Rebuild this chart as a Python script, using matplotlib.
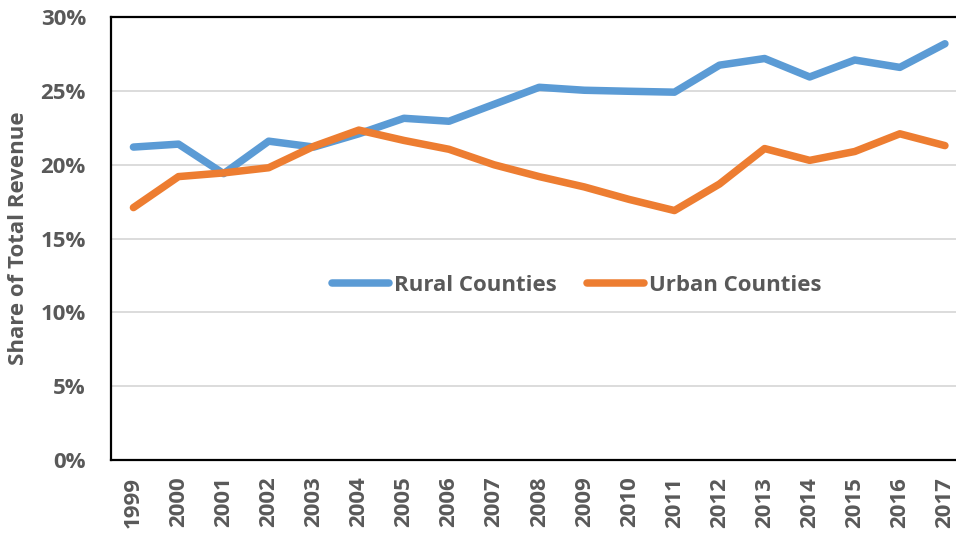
import matplotlib.pyplot as plt
from matplotlib.ticker import PercentFormatter

years = [str(y) for y in range(1999, 2018)]
rural = [21.2, 21.4, 19.4, 21.6, 21.2, 22.1, 23.15, 22.95, 24.1, 25.25,
         25.05, 24.98, 24.92, 26.75, 27.2, 25.95, 27.1, 26.6, 28.2]
urban = [17.1, 19.2, 19.45, 19.8, 21.25, 22.35, 21.65, 21.05, 20.0, 19.2,
         18.5, 17.65, 16.9, 18.7, 21.1, 20.3, 20.9, 22.1, 21.3]

plt.rcParams['font.family'] = ['Open Sans', 'DejaVu Sans']
gray = '#595959'

fig = plt.figure(figsize=(9.56, 5.37), dpi=100)
ax = fig.add_axes([0.116, 0.1434, 0.896, 0.8246])

x = range(len(years))
ax.plot(x, rural, color='#5B9BD5', lw=5.4, solid_capstyle='round', label='Rural Counties')
ax.plot(x, urban, color='#ED7D31', lw=5.4, solid_capstyle='round', label='Urban Counties')

ax.set_xlim(-0.5, len(years) - 0.5)
ax.set_ylim(0, 30)
ax.set_yticks(range(0, 31, 5))
ax.yaxis.set_major_formatter(PercentFormatter(decimals=0))
ax.set_xticks(list(x))
ax.set_xticklabels(years, rotation=90)

ax.grid(axis='y', color='#D9D9D9', lw=1.3)
ax.set_axisbelow(True)
for s in ax.spines.values():
    s.set_color('black')
    s.set_linewidth(1.6)

ax.tick_params(length=0, labelcolor=gray)
ax.tick_params(axis='y', pad=18)
ax.tick_params(axis='x', pad=12)
for lab in ax.get_xticklabels() + ax.get_yticklabels():
    lab.set_fontweight('bold')
    lab.set_fontsize(16)

ax.set_ylabel('Share of Total Revenue', fontsize=16, fontweight='bold', color=gray, labelpad=8)

leg = ax.legend(loc='center', bbox_to_anchor=(0.5435, 0.395), ncol=2, frameon=False,
                handlelength=2.6, columnspacing=1.35, handletextpad=0.2,
                prop={'weight': 'bold', 'size': 16})
for t in leg.get_texts():
    t.set_color(gray)

fig.savefig('out.png', dpi=100)
